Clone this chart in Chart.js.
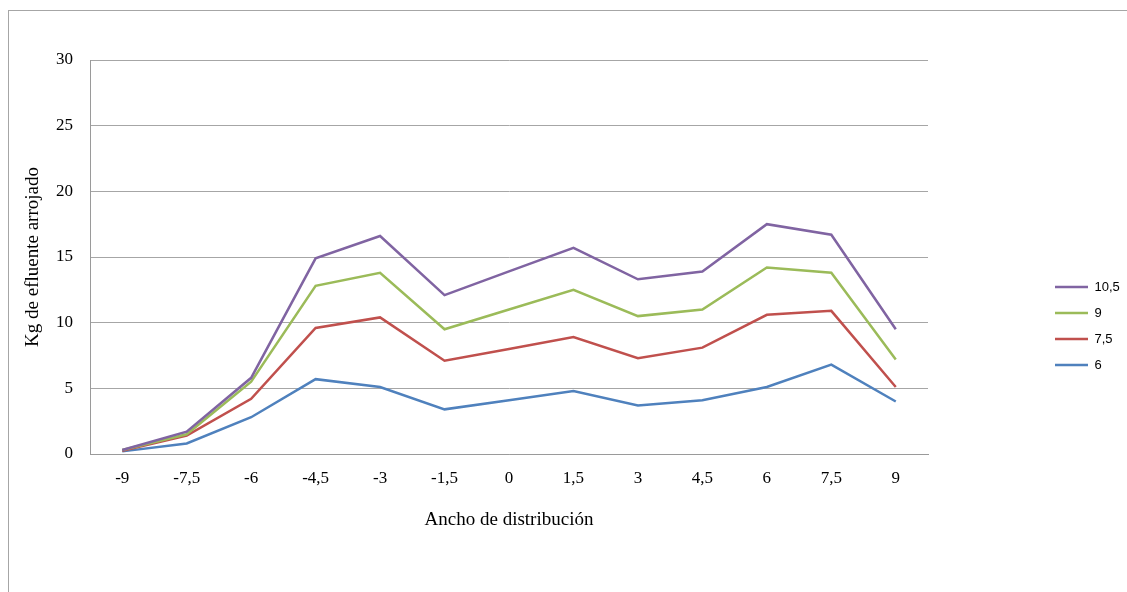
<!DOCTYPE html>
<html>
<head>
<meta charset="utf-8">
<script src="https://cdn.jsdelivr.net/npm/chart.js@4"></script>
<style>
  body { margin: 0; background: #fff; overflow: hidden; }
  .frame { position: absolute; left: 8px; top: 10px; width: 1200px; height: 650px;
           border-top: 1px solid #a6a6a6; border-left: 1px solid #a6a6a6; }
  .holder { position: absolute; left: 9px; top: 11px; width: 1118px; height: 581px; }
</style>
</head>
<body>
<div class="frame"></div>
<div class="holder"><canvas id="effluentChart"></canvas></div>
<script>
// categories (ancho de distribucion)
const categories = ['-9', '-7,5', '-6', '-4,5', '-3', '-1,5', '0', '1,5', '3', '4,5', '6', '7,5', '9'];

// series
const serie105 = [0.3, 1.7, 5.8, 14.9, 16.6, 12.1, 13.9, 15.7, 13.3, 13.9, 17.5, 16.7, 9.5];
const serie9   = [0.3, 1.5, 5.5, 12.8, 13.8, 9.5, 11.0, 12.5, 10.5, 11.0, 14.2, 13.8, 7.2];
const serie75  = [0.25, 1.4, 4.2, 9.6, 10.4, 7.1, 8.0, 8.9, 7.3, 8.1, 10.6, 10.9, 5.1];
const serie6   = [0.2, 0.8, 2.8, 5.7, 5.1, 3.4, 4.1, 4.8, 3.7, 4.1, 5.1, 6.8, 4.0];

const seriesNames = ['10,5', '9', '7,5', '6'];
const yTicks = [0, 5, 10, 15, 20, 25, 30];

const COLORS = {
    purple: '#8064A2',
    green: '#9BBB59',
    red: '#C0504D',
    blue: '#4F81BD'
};

function makeSet(label, data, color) {
    return {
        label: label,
        data: data,
        borderColor: color,
        backgroundColor: color,
        borderWidth: 2.5,
        pointRadius: 0,
        pointStyle: 'line',
        tension: 0,
        fill: false
    };
}

const datasetArray = [
    makeSet(seriesNames[0], serie105, COLORS.purple),
    makeSet(seriesNames[1], serie9, COLORS.green),
    makeSet(seriesNames[2], serie75, COLORS.red),
    makeSet(seriesNames[3], serie6, COLORS.blue)
];

//fix the legend width so the plot area lands where the excel one is
const legendWidth = {
    id: 'legendWidth',
    beforeLayout(chart) {
        const lg = chart.legend;
        if (lg && !lg._fixed) {
            const fit = lg.fit;
            lg.fit = function () { fit.call(this); this.width = 85; };
            lg._fixed = true;
        }
    }
};

const serif = 'Liberation Serif';

const config = {
    type: 'line',
    data: { labels: categories, datasets: datasetArray },
    plugins: [legendWidth],
    options: {
        responsive: true,
        maintainAspectRatio: false,
        animation: false,
        layout: { padding: { top: 49, left: 0, right: 0, bottom: 0 } },
        plugins: {
            tooltip: { enabled: false },
            legend: {
                position: 'right',
                align: 'center',
                labels: {
                    usePointStyle: true,
                    pointStyleWidth: 33,
                    padding: 13,
                    color: '#000',
                    font: { family: 'Liberation Sans', size: 13 }
                }
            }
        },
        scales: {
            x: {
                offset: true,
                grid: { display: false, drawTicks: false },
                border: { display: true, color: '#9a9a9a', width: 1 },
                ticks: { color: '#000', padding: 14, maxRotation: 0, autoSkip: false,
                         font: { family: serif, size: 17 } },
                title: { display: true, text: 'Ancho de distribución', color: '#000',
                         padding: { top: 0, bottom: 61 }, font: { family: serif, size: 19 } },
                afterFit(scale) { scale.height = 138; }
            },
            y: {
                min: 0,
                max: 30,
                afterBuildTicks(scale) { scale.ticks = yTicks.map(v => ({ value: v })); },
                grid: { color: '#a6a6a6', lineWidth: 1, drawTicks: false },
                border: { display: true, color: '#9a9a9a', width: 1 },
                ticks: { color: '#000', padding: 17, font: { family: serif, size: 17 } },
                title: { display: true, text: 'Kg de efluente arrojado', color: '#000',
                         padding: { top: 13, bottom: 0 }, font: { family: serif, size: 19 } },
                afterFit(scale) { scale.width = 81; }
            },
            // empty spacer between plot and legend
            gap: {
                type: 'linear',
                position: 'right',
                display: true,
                grid: { display: false, drawTicks: false },
                border: { display: false },
                ticks: { display: false },
                afterFit(scale) { scale.width = 114; }
            }
        }
    }
};

const effluentChart = new Chart(document.getElementById('effluentChart'), config);
</script>
</body>
</html>
